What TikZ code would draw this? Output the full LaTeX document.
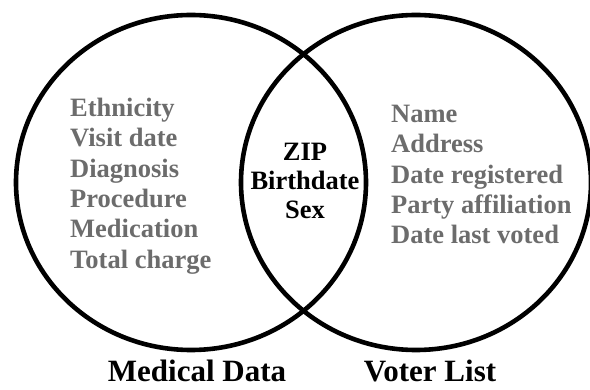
\documentclass[tikz,border=0pt]{standalone}
\usepackage{fontspec}
\setmainfont{Liberation Serif}
\definecolor{itemgray}{RGB}{108,108,108}
\begin{document}
\begin{tikzpicture}[x=1pt,y=1pt,
    setring/.style={draw=black,line width=4.6pt},
    itemlist/.style={anchor=north west,align=left,text=itemgray,font=\fontsize{26.5}{30.3}\selectfont\bfseries,inner sep=0pt},
    sharedlist/.style={align=center,text=black,font=\fontsize{26.5}{29}\selectfont\bfseries,inner sep=0pt},
    setlabel/.style={anchor=base,text=black,font=\fontsize{31}{34}\selectfont\bfseries,inner sep=0pt}]
  % canvas
  \useasboundingbox (0,0) rectangle (590,389);
  % the two sets
  \draw[setring] (191,206.5) ellipse [x radius=175, y radius=167.5];
  \draw[setring] (416,206.5) ellipse [x radius=175, y radius=167.5];
  % set contents
  \node[itemlist] (medical) at (70,291) {Ethnicity\\Visit date\\Diagnosis\\Procedure\\Medication\\Total charge};
  \node[itemlist] (voter) at (391,284) {Name\\Address\\Date registered\\Party affiliation\\Date last voted};
  \node[sharedlist] (shared) at (305,208) {ZIP\\Birthdate\\Sex};
  % set names
  \node[setlabel] (medlabel) at (197,7.5) {Medical Data};
  \node[setlabel] (votlabel) at (430,7.5) {Voter List};
\end{tikzpicture}
\end{document}
